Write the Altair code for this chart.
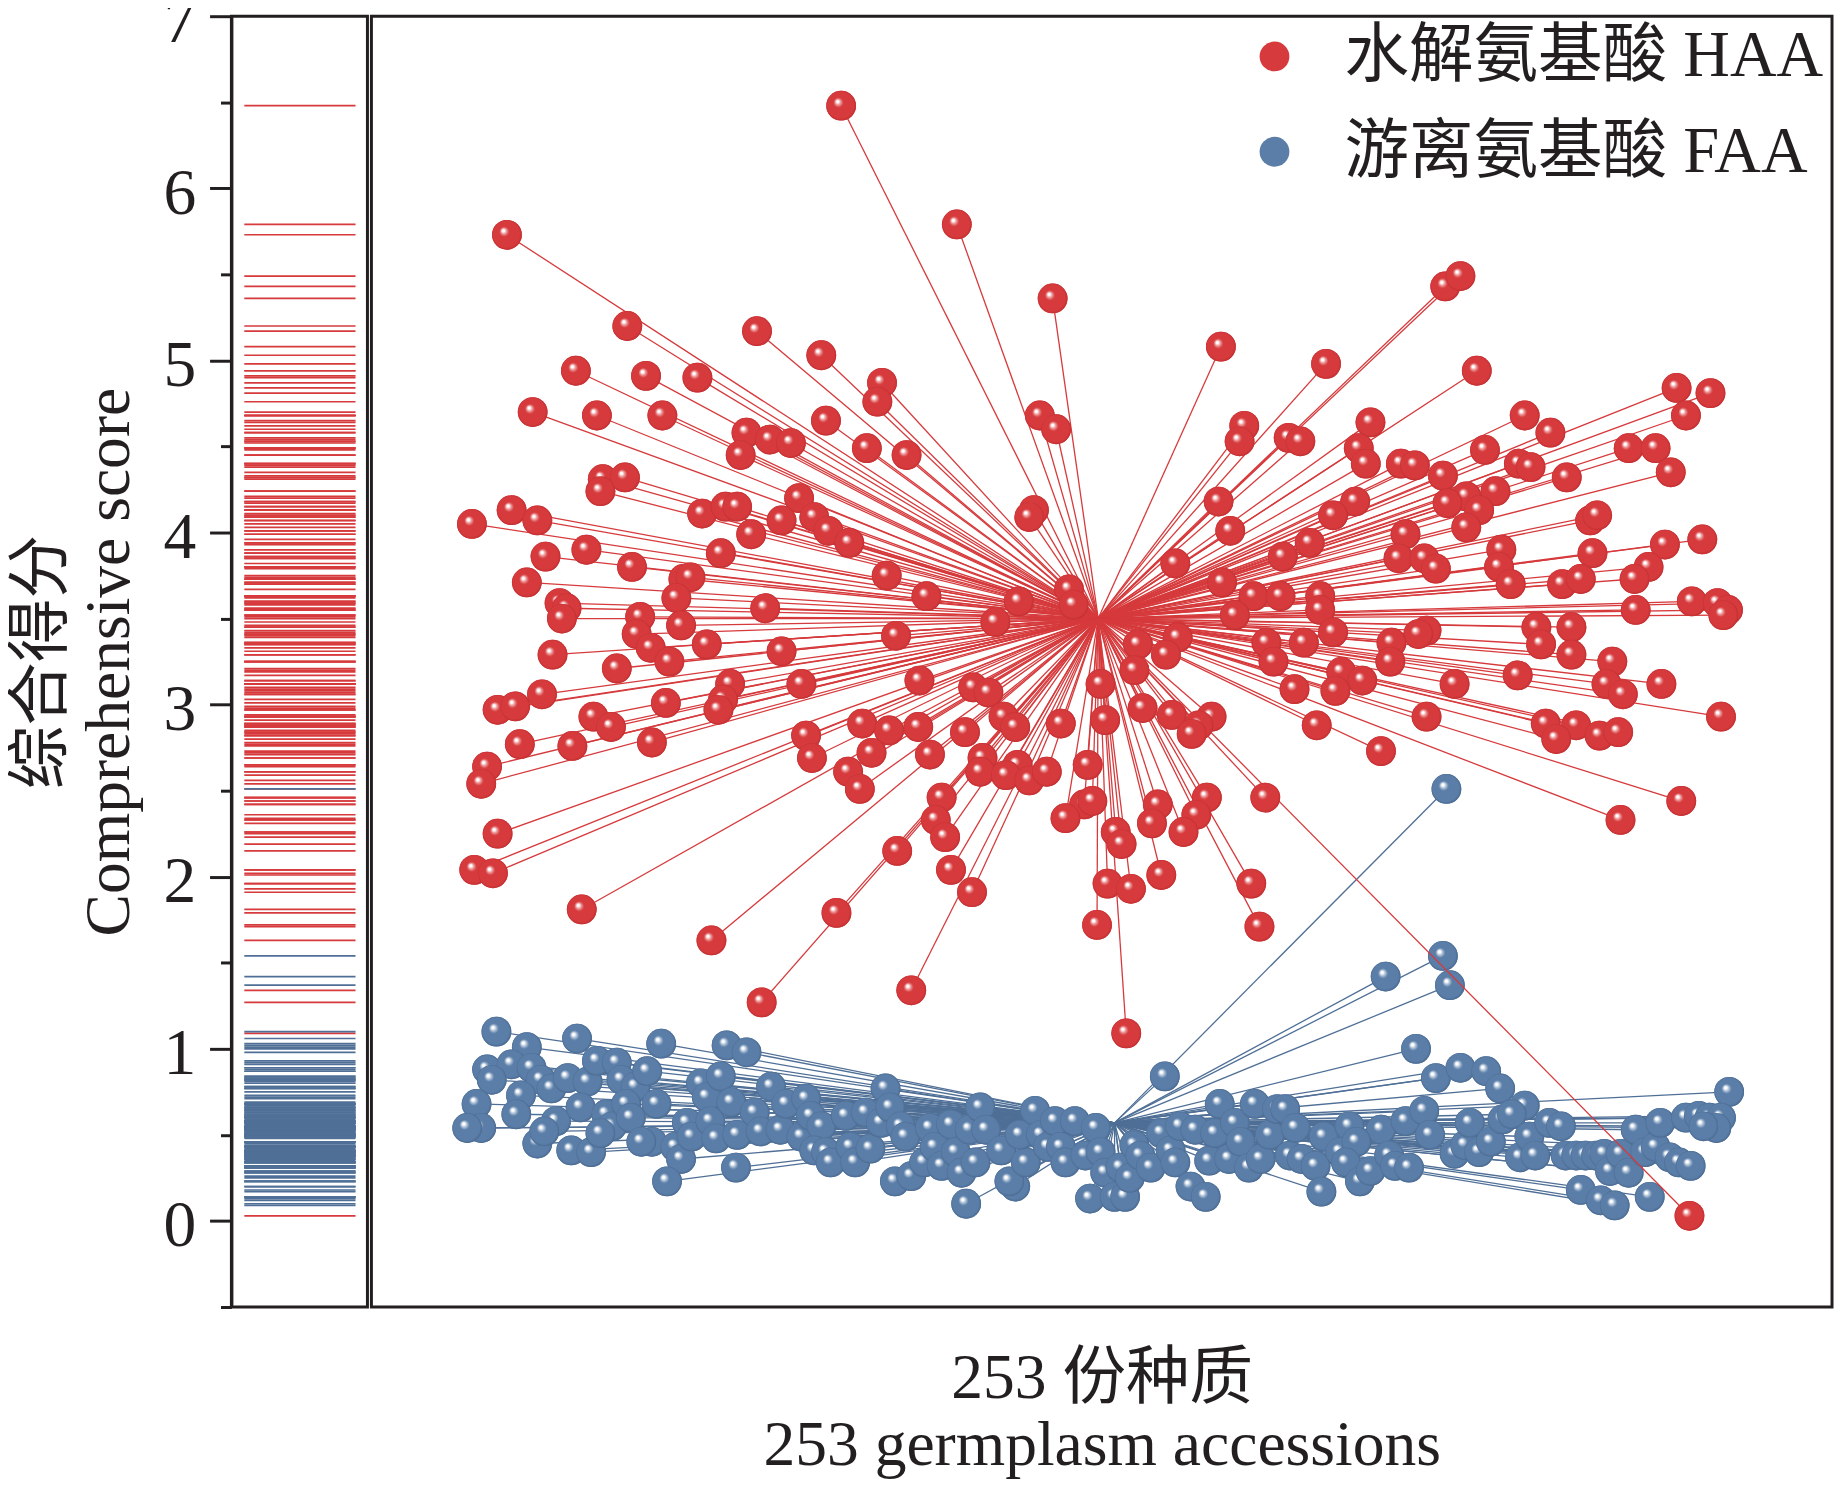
import altair as alt
import pandas as pd

FONT = "Liberation Serif, Noto Sans CJK SC"
RED = "#d63a3c"
BLUE = "#5a7ea8"

HAA_LABEL = "水解氨基酸 HAA"
FAA_LABEL = "游离氨基酸 FAA"

# hydrolysed amino acid scores: position along x (accession order) and score
haa_x = [402, 501, 116, 583, 919, 932, 219, 330, 385, 727, 817, 946, 175, 235, 279, 437, 433,
         1117, 1146, 138, 193, 249, 389, 572, 586, 747, 743, 855, 987, 1009, 1125, 321, 341, 359,
         316, 424, 458, 785, 795, 845, 953, 1076, 1099, 851, 881, 893, 982, 992, 1112, 917, 1023,
         198, 217, 196, 962, 937, 725, 842, 948, 283, 303, 313, 366, 120, 567, 563, 921, 351, 379,
         823, 86, 142, 1043, 1049, 735, 937, 391, 325, 885, 409, 803, 1139, 1107, 149, 184, 299,
         688, 780, 879, 901, 967, 1045, 965, 911, 1093, 1081, 223, 267, 273, 441, 728, 133, 975,
         1019, 1035, 597, 475, 755, 778, 812, 812, 261, 161, 167, 163, 337, 230, 554, 601, 739,
         1082, 1130, 1152, 1161, 1157, 534, 265, 227, 997, 1027, 903, 896, 823, 449, 690, 287, 766,
         798, 656, 873, 680, 239, 255, 155, 351, 1001, 1027, 772, 872, 1062, 210, 653, 830, 981,
         469, 307, 368, 1057, 790, 848, 624, 927, 1104, 825, 1071, 515, 146, 301, 252, 528, 297,
         108, 123, 190, 205, 420, 468, 541, 551, 628, 660, 685, 719, 708, 809, 903, 1031, 1005,
         1155, 590, 443, 508, 702, 1014, 1051, 1067, 127, 172, 240, 372, 428, 478, 377, 523, 553,
         864, 99, 408, 521, 543, 563, 578, 613, 94, 418, 488, 673, 715, 765, 610, 617, 1069, 1121,
         483, 594, 706, 668, 695, 491, 637, 108, 642, 450, 88, 104, 496, 676, 630, 650, 753, 514,
         180, 398, 621, 760, 291, 462, 334, 646, 1128]
haa_y = [6.48, 5.79, 5.73, 5.36, 5.43, 5.49, 5.20, 5.17, 5.03, 5.08, 4.98, 4.94, 4.94, 4.91, 4.90,
         4.87, 4.76, 4.84, 4.81, 4.70, 4.68, 4.68, 4.65, 4.68, 4.60, 4.62, 4.53, 4.64, 4.68, 4.58,
         4.68, 4.58, 4.54, 4.52, 4.45, 4.49, 4.45, 4.55, 4.53, 4.49, 4.48, 4.49, 4.49, 4.40, 4.40,
         4.39, 4.40, 4.38, 4.35, 4.33, 4.32, 4.31, 4.32, 4.24, 4.24, 4.21, 4.18, 4.18, 4.13, 4.11,
         4.15, 4.15, 4.20, 4.13, 4.13, 4.09, 4.17, 4.07, 4.09, 4.10, 4.05, 4.07, 4.07, 4.10, 4.01,
         4.03, 4.01, 3.99, 3.99, 3.94, 3.94, 3.96, 3.93, 3.86, 3.90, 3.88, 3.82, 3.86, 3.85, 3.85,
         3.90, 3.88, 3.80, 3.79, 3.80, 3.73, 3.80, 3.73, 3.74, 3.75, 3.71, 3.71, 3.70, 3.70, 3.73,
         3.67, 3.63, 3.63, 3.63, 3.63, 3.55, 3.62, 3.59, 3.56, 3.50, 3.56, 3.51, 3.60, 3.58, 3.52,
         3.55, 3.60, 3.59, 3.55, 3.52, 3.48, 3.46, 3.41, 3.45, 3.45, 3.43, 3.41, 3.42, 3.40, 3.39,
         3.35, 3.36, 3.36, 3.35, 3.36, 3.29, 3.33, 3.25, 3.29, 3.31, 3.35, 3.29, 3.25, 3.25, 3.25,
         3.21, 3.20, 3.19, 3.17, 3.14, 3.12, 3.12, 3.12, 3.09, 3.14, 3.12, 3.12, 3.12, 3.08, 3.06,
         3.10, 3.06, 3.03, 3.01, 3.07, 2.97, 2.97, 2.99, 2.93, 2.87, 2.89, 2.87, 2.93, 2.87, 2.91,
         2.98, 2.94, 2.93, 2.88, 2.88, 2.93, 2.88, 2.89, 2.93, 2.89, 2.85, 2.84, 2.83, 2.80, 2.82,
         2.84, 2.77, 2.76, 2.78, 2.82, 2.72, 2.71, 2.69, 2.69, 2.65, 2.73, 2.64, 2.61, 2.61, 2.59,
         2.56, 2.61, 2.65, 2.54, 2.51, 2.46, 2.42, 2.46, 2.46, 2.42, 2.44, 2.33, 2.44, 2.33, 2.34,
         2.36, 2.31, 2.26, 2.23, 2.26, 2.25, 2.19, 2.15, 2.04, 2.02, 2.04, 2.01, 1.96, 1.93, 1.96,
         1.91, 1.81, 1.79, 1.72, 1.71, 1.63, 1.34, 1.27, 1.09, 0.03]

# free amino acid scores
faa_x = [107, 133, 176, 248, 304, 321, 99, 120, 137, 103, 145, 154, 168, 185, 193, 210, 214, 226,
         236, 90, 128, 124, 94, 82, 142, 158, 148, 179, 201, 206, 218, 222, 244, 171, 188, 196, 240,
         231, 260, 265, 253, 270, 274, 282, 287, 299, 290, 295, 308, 312, 328, 313, 333, 342, 350,
         355, 368, 372, 376, 385, 379, 389, 393, 406, 410, 414, 427, 423, 436, 440, 444, 448,
         453, 457, 462, 473, 478, 482, 488, 496, 500, 505, 512, 517, 521, 526, 509, 539, 551, 546,
         560, 555, 568, 573, 579, 585, 590, 594, 602, 611, 615, 620, 624, 628, 636, 641, 645, 649,
         653, 658, 667, 676, 679, 684, 688, 692, 701, 705, 714, 717, 722, 726, 734, 739, 744, 751,
         756, 761, 769, 775, 782, 786, 791, 796, 808, 813, 815,
         894, 911, 932, 954, 966, 987, 1162, 837, 864, 885, 901, 906, 829, 843, 834, 846, 855, 871,
         876, 888, 927, 936, 940, 948, 958, 968, 976, 983, 991, 996, 1008, 1018, 1022, 1035, 1031,
         1039, 1048, 1052, 1055, 1060, 1064, 1069, 1076, 1082, 1090, 1094, 1099, 1103, 1111, 1119,
         1125, 1129, 1136, 1145, 1155, 1151, 1140, 920, 917, 868, 923]
faa_y = [1.10, 1.01, 1.06, 1.03, 1.02, 0.98, 0.88, 0.91, 0.89, 0.82, 0.82, 0.77, 0.83, 0.81, 0.93,
         0.92, 0.82, 0.78, 0.87, 0.68, 0.73, 0.62, 0.54, 0.54, 0.45, 0.58, 0.52, 0.66, 0.62, 0.55,
         0.68, 0.60, 0.68, 0.41, 0.40, 0.51, 0.46, 0.46, 0.43, 0.36, 0.23, 0.57, 0.49, 0.80, 0.72,
         0.84, 0.58, 0.48, 0.69, 0.31, 0.63, 0.50, 0.52, 0.78, 0.53, 0.68, 0.49, 0.71, 0.61, 0.55,
         0.41, 0.40, 0.34, 0.61, 0.43, 0.34, 0.42, 0.63, 0.57, 0.77, 0.66, 0.23,
         0.55, 0.49, 0.26, 0.34, 0.54, 0.43, 0.32, 0.56, 0.40, 0.28, 0.53, 0.34, 0.66, 0.53, 0.10,
         0.41, 0.20, 0.23, 0.34, 0.50, 0.64, 0.50, 0.43, 0.58, 0.43, 0.34, 0.58, 0.38, 0.13, 0.54,
         0.40, 0.28, 0.14, 0.31, 0.14, 0.25, 0.44, 0.38, 0.31, 0.51, 0.84, 0.41, 0.34, 0.55, 0.20,
         0.53, 0.14, 0.35, 0.51, 0.68, 0.36, 0.57, 0.46, 0.31, 0.68, 0.36, 0.50, 0.65, 0.65, 0.38,
         0.54, 0.36, 0.32, 0.17, 0.49,
         1.00, 0.83, 0.89, 0.87, 0.77, 0.67, 0.75, 0.55, 0.53, 0.58, 0.64, 0.50, 0.40, 0.46, 0.34,
         0.23, 0.29, 0.38, 0.32, 0.31, 0.39, 0.44, 0.57, 0.40, 0.46, 0.59, 0.62, 0.37, 0.49, 0.38,
         0.57, 0.55, 0.38, 0.18, 0.38, 0.38, 0.38, 0.12, 0.39, 0.29, 0.09, 0.39, 0.28, 0.53, 0.40,
         0.14, 0.43, 0.57, 0.37, 0.34, 0.60, 0.32, 0.61, 0.60, 0.60, 0.54, 0.55, 2.51, 1.54, 1.42,
         1.37]

# where the spokes meet
haa_centre = (622, 3.50)
faa_centre = (636, 0.57)

haa = pd.DataFrame({"x": haa_x, "y": haa_y, "series": HAA_LABEL,
                    "cx": haa_centre[0], "cy": haa_centre[1]})
faa = pd.DataFrame({"x": faa_x, "y": faa_y, "series": FAA_LABEL,
                    "cx": faa_centre[0], "cy": faa_centre[1]})


def sphere(base, edge, ring):
    return {
        "gradient": "radial",
        "x1": 0.37, "y1": 0.35, "r1": 0,
        "x2": 0.5, "y2": 0.5, "r2": 0.52,
        "stops": [
            {"offset": 0, "color": "#ffffff"},
            {"offset": 0.08, "color": "#ffffff"},
            {"offset": 0.17, "color": ring},
            {"offset": 0.32, "color": base},
            {"offset": 0.85, "color": base},
            {"offset": 1, "color": edge},
        ],
    }


y_scale = alt.Scale(domain=[-0.5, 7], nice=False, zero=False)
x_scale = alt.Scale(domain=[0, 1250], nice=False, zero=False)
colour_scale = alt.Scale(domain=[HAA_LABEL, FAA_LABEL], range=[RED, BLUE])

W_MAIN = 1471
W_RUG = 137
H = 1300


def spokes(df, colour):
    return alt.Chart(df).mark_rule(color=colour, strokeWidth=1.3).encode(
        x=alt.X("x:Q", scale=x_scale),
        y=alt.Y("y:Q", scale=y_scale),
        x2="cx:Q",
        y2="cy:Q",
    )


def balls(df, base, edge, ring):
    flat = alt.Chart(df).mark_point(filled=True, size=900, opacity=1, strokeWidth=0).encode(
        x=alt.X("x:Q", scale=x_scale),
        y=alt.Y("y:Q", scale=y_scale),
        color=alt.Color(
            "series:N", scale=colour_scale, title=None,
            legend=alt.Legend(orient="top-right"),
        ),
    )
    shaded = alt.Chart(df).mark_point(
        filled=True, size=900, opacity=1, strokeWidth=0, fill=sphere(base, edge, ring)
    ).encode(
        x=alt.X("x:Q", scale=x_scale),
        y=alt.Y("y:Q", scale=y_scale),
    )
    return flat + shaded


main = alt.layer(
    spokes(faa, "#4f6f96"),
    balls(faa, BLUE, "#46648a", "#b9c9dc"),
    spokes(haa, RED),
    balls(haa, RED, "#bd2c2f", "#eea0a1"),
).encode(
    x=alt.X(
        "x:Q",
        scale=x_scale,
        axis=alt.Axis(
            title=["253 份种质", "253 germplasm accessions"],
            labels=False, ticks=False, domain=False, grid=False,
            titleFont=FONT, titleFontSize=64, titleFontWeight="normal",
            titleColor="#231f20", titlePadding=40, titleLineHeight=68,
        ),
    ),
    y=alt.Y("y:Q", scale=y_scale, axis=None),
).properties(width=W_MAIN, height=H)

rug_axis = alt.Axis(
    title=["综合得分", "Comprehensive score"],
    values=[-0.5, 0, 0.5, 1, 1.5, 2, 2.5, 3, 3.5, 4, 4.5, 5, 5.5, 6, 6.5, 7],
    labelExpr="datum.value % 1 === 0 ? datum.value : ''",
    tickSize={"condition": {"test": "datum.value % 1 === 0", "value": 22}, "value": 11},
    tickWidth=3, tickColor="#231f20",
    domainColor="#231f20", domainWidth=3,
    grid=False,
    labelFont=FONT, labelFontSize=66, labelColor="#231f20", labelPadding=14,
    labelOffset=5,
    labelOverlap=False,
    titleFont=FONT, titleFontSize=64, titleFontWeight="normal", titleColor="#231f20",
    titlePadding=22, titleLineHeight=68,
)

rug_haa = alt.Chart(haa).mark_rule(color=RED, strokeWidth=1.7).encode(
    y=alt.Y("y:Q", scale=y_scale, axis=rug_axis),
    x=alt.value(13),
    x2=alt.value(125),
)
rug_faa = alt.Chart(faa).mark_rule(color="#4f6f96", strokeWidth=1.7).encode(
    y=alt.Y("y:Q", scale=y_scale),
    x=alt.value(13),
    x2=alt.value(125),
)
rug = alt.layer(rug_haa, rug_faa).properties(width=W_RUG, height=H)

chart = alt.hconcat(rug, main, spacing=0).resolve_scale(
    color="independent"
).resolve_legend(
    color="independent"
).configure_view(
    stroke="#231f20", strokeWidth=3
).configure_legend(
    offset=8,
    padding=0,
    labelFont=FONT,
    labelFontSize=65,
    labelColor="#231f20",
    labelOffset=38,
    symbolSize=900,
    symbolType="circle",
    symbolStrokeWidth=0,
    rowPadding=30,
    labelLimit=800,
).properties(padding={"left": 0, "top": -27, "right": 0, "bottom": 0}, background="white")

chart.save("out.html", embed_options={"renderer": "svg", "actions": False})
